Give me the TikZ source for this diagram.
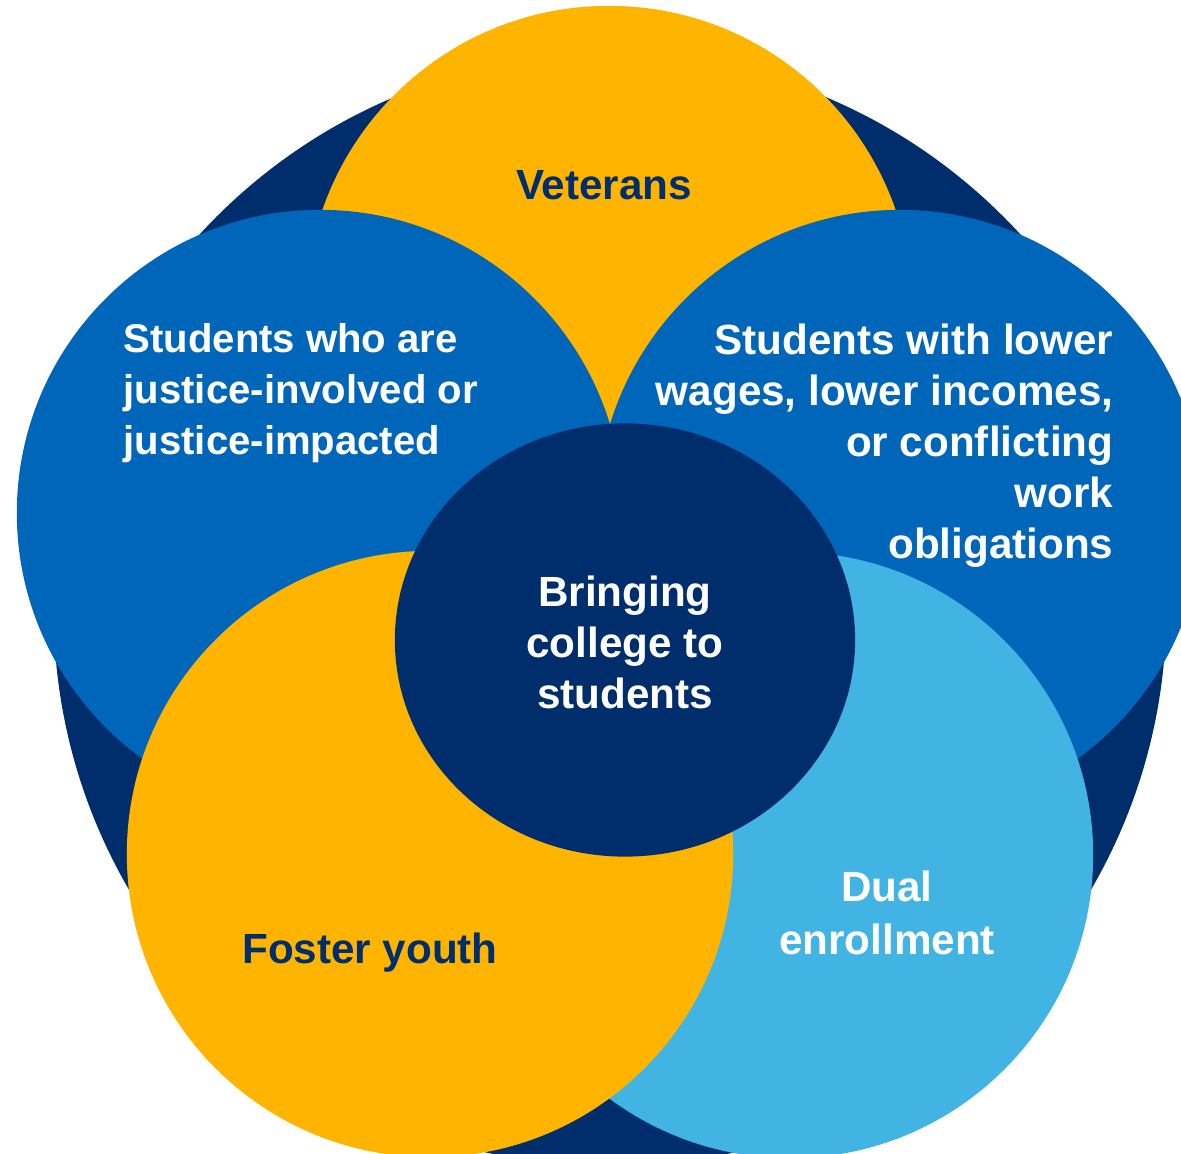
\documentclass[tikz,border=0pt]{standalone}
\usepackage{fontspec}
\setmainfont{Liberation Sans}
\usetikzlibrary{shapes.geometric}

\definecolor{navy}{HTML}{002E6D}
\definecolor{gold}{HTML}{FFB500}
\definecolor{midblue}{HTML}{0066B9}
\definecolor{skyblue}{HTML}{41B4E4}

\tikzset{
  group/.style={circle, inner sep=0pt, minimum size=6.06cm},
  grouptext/.style={font=\bfseries\fontsize{12}{14.5}\selectfont, inner sep=0pt, text=white},
}

\begin{document}
\begin{tikzpicture}[x=0.01cm, y=-0.01cm]
\useasboundingbox (0,0) rectangle (1181,1154);
\clip (0,0) rectangle (1181,1154);

% back disc
\node[circle, fill=navy, inner sep=0pt, minimum size=11.12cm] (outer) at (610,610) {};

% the five groups, back to front
\node[group, fill=gold]    (veterans) at (609,309) {};
\node[group, fill=midblue] (justice)  at (320,513) {};
\node[group, fill=midblue] (wages)    at (900,513) {};
\node[group, fill=skyblue] (dual)     at (790,855) {};
\node[group, fill=gold]    (foster)   at (430,854) {};

% centre
\node[
      ellipse,
      fill=navy,
      inner sep=0pt,
      minimum width=4.6cm,
      minimum height=4.33cm
] (core) at (625,640) {};

% labels
\node[grouptext, text=navy, anchor=base] (veteranstext) at (604,199) {Veterans};
\node[
      grouptext,
      font=\bfseries\fontsize{11.4}{14.5}\selectfont,
      align=left,
      anchor=north west
] (justicetext) at (123,323) {Students who are\\justice-involved or\\justice-impacted};
\node[
      grouptext,
      font=\bfseries\fontsize{12}{14.55}\selectfont,
      align=right,
      anchor=north east
] (wagestext) at (1114,323) {Students with lower\\wages, lower incomes,\\or conflicting\\work\\obligations};
\node[grouptext, align=center, anchor=north] (coretext) at (625,575) {Bringing\\college to\\students};
\node[
      grouptext,
      font=\bfseries\fontsize{12}{15.1}\selectfont,
      align=center,
      anchor=north
] (dualtext) at (887,870) {Dual\\enrollment};
\node[grouptext, text=navy, anchor=base] (fostertext) at (370,963) {Foster youth};
\end{tikzpicture}
\end{document}
